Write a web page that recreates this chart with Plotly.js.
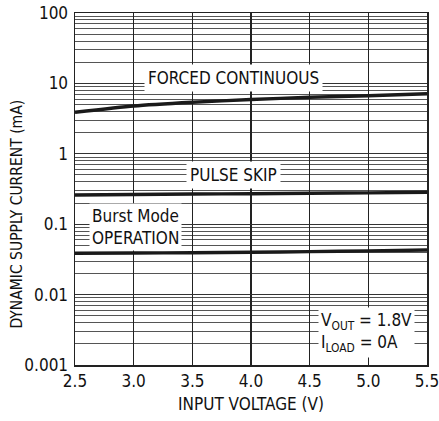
<!DOCTYPE html>
<html>
<head>
<meta charset="utf-8">
<script src="https://cdn.plot.ly/plotly-3.0.1.min.js"></script>
<style>html,body{margin:0;padding:0;background:#fff;}#chart{width:439px;height:421px;}</style>
</head>
<body>
<div id="chart"></div>
<script>
const vin = [2.5, 3.0, 3.5, 4.0, 4.5, 5.0, 5.5];
const forcedContinuous = [3.89, 4.77, 5.39, 5.91, 6.35, 6.68, 7.14];
const pulseSkip = [0.26, 0.264, 0.268, 0.271, 0.275, 0.279, 0.284];
const burstMode = [0.0386, 0.0389, 0.0393, 0.0399, 0.0408, 0.0418, 0.043];

const xTicks = [2.5, 3.0, 3.5, 4.0, 4.5, 5.0, 5.5];
const xTickText = ['2.5', '3.0', '3.5', '4.0', '4.5', '5.0', '5.5'];
const yTicks = [0.001, 0.01, 0.1, 1, 10, 100];
const yTickText = ['0.001', '0.01', '0.1', '1', '10', '100'];
const minorY = [];
[0.001, 0.01, 0.1, 1, 10].forEach(d => { for (let k = 2; k <= 9; k++) minorY.push(+(d * k).toPrecision(3)); });

const FONT = '"DejaVu Sans Condensed", Roboto, sans-serif';
const lineStyle = {color: '#1a1a1a', width: 3.4, shape: 'spline', smoothing: 0.6};

const traces = [
  {x: vin, y: forcedContinuous, mode: 'lines', line: lineStyle, name: 'FORCED CONTINUOUS'},
  {x: vin, y: pulseSkip, mode: 'lines', line: lineStyle, name: 'PULSE SKIP'},
  {x: vin, y: burstMode, mode: 'lines', line: lineStyle, name: 'Burst Mode OPERATION'}
];

const annoFont = {family: FONT, size: 17, color: '#111'};
const layout = {
  width: 439, height: 421,
  margin: {l: 75, r: 12, t: 13, b: 56},
  paper_bgcolor: '#fff', plot_bgcolor: '#fff',
  showlegend: false,
  font: {family: FONT, size: 16, color: '#111'},
  xaxis: {
    range: [2.5, 5.5], tickmode: 'array', tickvals: xTicks, ticktext: xTickText,
    showgrid: true, gridcolor: '#222', gridwidth: 1.3,
    showline: true, linecolor: '#222', linewidth: 1.5, mirror: true,
    ticks: '', zeroline: false, ticklabeloverflow: 'allow',
    tickfont: {family: FONT, size: 17, color: '#111'},
    title: {text: 'INPUT VOLTAGE (V)', font: {family: FONT, size: 17, color: '#111'}, standoff: 8}
  },
  yaxis: {
    type: 'log', range: [-3, 2], tickmode: 'array', tickvals: yTicks, ticktext: yTickText,
    showgrid: true, gridcolor: '#333', gridwidth: 1.2,
    minor: {tickmode: 'array', tickvals: minorY, showgrid: true, gridcolor: '#555', gridwidth: 1, ticks: ''},
    showline: true, linecolor: '#222', linewidth: 1.5, mirror: true,
    ticks: '', zeroline: false, ticklabelstandoff: 2, ticklabeloverflow: 'allow',
    tickfont: {family: FONT, size: 17, color: '#111'}
  },
  annotations: [
    {x: -0.165, y: 0.43, xref: 'paper', yref: 'paper', text: 'DYNAMIC SUPPLY CURRENT (mA)', showarrow: false,
     textangle: -90, font: {family: FONT, size: 15.5, color: '#111'}, xanchor: 'center', yanchor: 'middle'},
    {x: 3.847, y: Math.log10(12), xref: 'x', yref: 'y', text: 'FORCED CONTINUOUS', showarrow: false,
     font: annoFont, bgcolor: '#fff', borderpad: 3, xanchor: 'center', yanchor: 'middle'},
    {x: 3.847, y: Math.log10(0.5), xref: 'x', yref: 'y', text: 'PULSE SKIP', showarrow: false,
     font: annoFont, bgcolor: '#fff', borderpad: 3, xanchor: 'center', yanchor: 'middle'},
    {x: 3.016, y: Math.log10(0.09), xref: 'x', yref: 'y', text: 'Burst Mode<br>OPERATION', showarrow: false,
     font: annoFont, bgcolor: '#fff', borderpad: 2, align: 'left', xanchor: 'center', yanchor: 'middle'},
    {x: 4.984, y: Math.log10(0.00285), xref: 'x', yref: 'y', text: 'V<sub>OUT</sub> = 1.8V<br>I<sub>LOAD</sub> = 0A', showarrow: false,
     font: annoFont, bgcolor: '#fff', borderpad: 2, align: 'left', xanchor: 'center', yanchor: 'middle'}
  ]
};

Plotly.newPlot('chart', traces, layout, {staticPlot: true, displayModeBar: false});
</script>
</body>
</html>
